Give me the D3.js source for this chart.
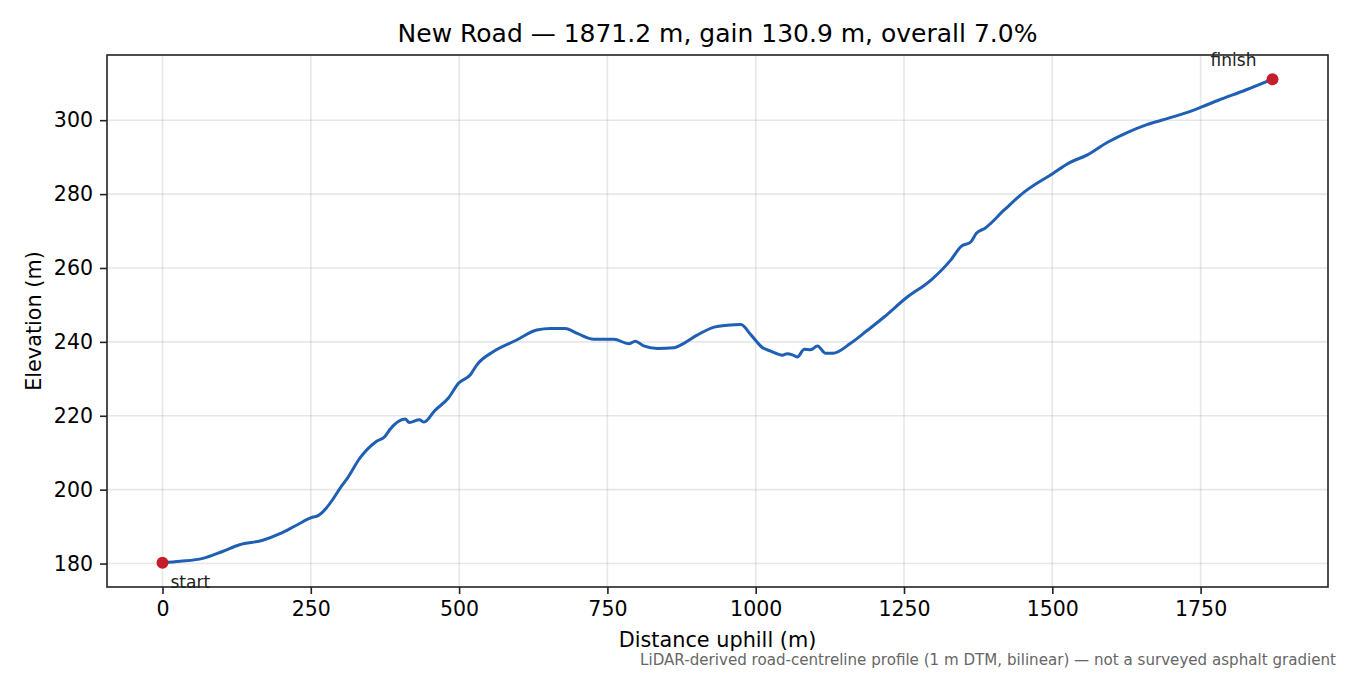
<!DOCTYPE html>
<html>
<head>
<meta charset="utf-8">
<script src="https://cdn.jsdelivr.net/npm/d3@7"></script>
<style>
  body { margin: 0; background: #fff; }
  svg { font-family: "DejaVu Sans", sans-serif; }
</style>
</head>
<body>
<div id="chart"></div>
<script>
var width = 1350;
var height = 675;
var margin = { top: 55, right: 22, bottom: 88, left: 107 };

// distance along the road (m) and elevation (m)
var distance = [0, 30, 68, 100, 130, 169, 198, 225, 254, 260, 275, 288, 302, 310, 333, 361, 375, 383,
  409, 416, 433, 441, 459, 482, 499, 519, 530, 558, 597, 631, 654, 679, 699, 727, 761, 786, 797,
  811, 834, 862, 879, 902, 930, 952, 975, 992, 1011, 1025, 1045, 1053, 1062, 1070, 1082, 1093,
  1104, 1118, 1130, 1160, 1189, 1217, 1253, 1296, 1329, 1346, 1363, 1372, 1386, 1419, 1453, 1501,
  1527, 1560, 1594, 1628, 1656, 1684, 1729, 1752, 1780, 1825, 1871.2];
var elevation = [180.2, 180.6, 181.4, 183.2, 185.1, 186.3, 188.1, 190.3, 192.6, 192.8, 194.8, 197.6,
  201.0, 202.7, 208.6, 213.1, 214.4, 216.2, 219.1, 218.2, 218.9, 218.3, 221.4, 224.8, 228.8, 231.1,
  233.8, 237.4, 240.5, 243.2, 243.6, 243.6, 242.3, 240.7, 240.7, 239.5, 240.2, 238.9, 238.2, 238.4,
  239.6, 241.9, 244.0, 244.5, 244.7, 241.9, 238.5, 237.5, 236.4, 236.8, 236.5, 235.9, 238.0, 237.9,
  238.9, 236.9, 236.9, 239.6, 243.2, 246.8, 251.8, 256.8, 262.2, 265.8, 267.1, 269.4, 270.7, 275.7,
  280.6, 285.6, 288.3, 290.7, 294.1, 296.8, 298.6, 300.0, 302.2, 303.6, 305.4, 308.1, 311.1];

var xTicks = [0, 250, 500, 750, 1000, 1250, 1500, 1750];
var yTicks = [180, 200, 220, 240, 260, 280, 300];
var endLabels = ["start", "finish"];

var title = "New Road \u2014 1871.2 m, gain 130.9 m, overall 7.0%";
var note = "LiDAR-derived road-centreline profile (1 m DTM, bilinear) \u2014 not a surveyed asphalt gradient";

var pts = distance.map(function (d, i) { return { x: d, y: elevation[i] }; });

// matplotlib-style 5% padding around the data
var xExt = d3.extent(distance), yExt = d3.extent(elevation);
var xPad = (xExt[1] - xExt[0]) * 0.05, yPad = (yExt[1] - yExt[0]) * 0.05;

var scalex = d3.scaleLinear()
  .domain([xExt[0] - xPad, xExt[1] + xPad])
  .range([margin.left, width - margin.right]);
var scaley = d3.scaleLinear()
  .domain([yExt[0] - yPad, yExt[1] + yPad])
  .range([height - margin.bottom, margin.top]);

var svg = d3.select("#chart").append("svg")
  .attr("width", width)
  .attr("height", height);

// grid
svg.append("g").selectAll("line").data(xTicks).enter().append("line")
  .attr("x1", function (d) { return scalex(d); })
  .attr("x2", function (d) { return scalex(d); })
  .attr("y1", margin.top).attr("y2", height - margin.bottom)
  .attr("stroke", "#b0b0b0").attr("stroke-opacity", 0.3).attr("stroke-width", 1.6);
svg.append("g").selectAll("line").data(yTicks).enter().append("line")
  .attr("y1", function (d) { return scaley(d); })
  .attr("y2", function (d) { return scaley(d); })
  .attr("x1", margin.left).attr("x2", width - margin.right)
  .attr("stroke", "#b0b0b0").attr("stroke-opacity", 0.3).attr("stroke-width", 1.6);

// axes
var xaxis = d3.axisBottom(scalex).tickValues(xTicks).tickSize(7).tickPadding(7).tickFormat(d3.format("d"));
var yaxis = d3.axisLeft(scaley).tickValues(yTicks).tickSize(7).tickPadding(7).tickFormat(d3.format("d"));

var gx = svg.append("g")
  .attr("transform", "translate(0," + (height - margin.bottom) + ")")
  .call(xaxis);
var gy = svg.append("g")
  .attr("transform", "translate(" + margin.left + ",0)")
  .call(yaxis);
[gx, gy].forEach(function (g) {
  g.select(".domain").remove();
  g.selectAll("line").attr("stroke", "#222").attr("stroke-width", 1.6);
  g.selectAll("text").attr("fill", "#000").style("font-size", "20.5px")
    .style("font-family", "DejaVu Sans, sans-serif");
});

// frame
svg.append("rect")
  .attr("x", margin.left).attr("y", margin.top)
  .attr("width", width - margin.left - margin.right)
  .attr("height", height - margin.top - margin.bottom)
  .attr("fill", "none").attr("stroke", "#222").attr("stroke-width", 1.6);

// profile line
var line = d3.line()
  .curve(d3.curveMonotoneX)
  .x(function (d) { return scalex(d.x); })
  .y(function (d) { return scaley(d.y); });
svg.append("path")
  .datum(pts)
  .attr("d", line)
  .attr("fill", "none")
  .attr("stroke", "#1f5fb4")
  .attr("stroke-width", 3)
  .attr("stroke-linejoin", "round");

// start / finish markers
var ends = [pts[0], pts[pts.length - 1]];
svg.append("g").selectAll("circle").data(ends).enter().append("circle")
  .attr("cx", function (d) { return scalex(d.x); })
  .attr("cy", function (d) { return scaley(d.y); })
  .attr("r", 6)
  .attr("fill", "#c41e2a");

svg.append("text")
  .attr("x", scalex(ends[0].x) + 8)
  .attr("y", scaley(ends[0].y) + 25)
  .style("font-size", "17px").attr("fill", "#222")
  .text(endLabels[0]);
svg.append("text")
  .attr("x", scalex(ends[1].x) - 39)
  .attr("y", scaley(ends[1].y) - 13)
  .attr("text-anchor", "middle")
  .style("font-size", "17px").attr("fill", "#222")
  .text(endLabels[1]);

// titles
svg.append("text")
  .attr("x", (margin.left + width - margin.right) / 2)
  .attr("y", 42)
  .attr("text-anchor", "middle")
  .style("font-size", "25px")
  .text(title);

svg.append("text")
  .attr("x", (margin.left + width - margin.right) / 2)
  .attr("y", 647)
  .attr("text-anchor", "middle")
  .style("font-size", "20.8px")
  .text("Distance uphill (m)");

svg.append("text")
  .attr("transform", "translate(41," + ((margin.top + height - margin.bottom) / 2) + ") rotate(-90)")
  .attr("text-anchor", "middle")
  .style("font-size", "20.8px")
  .text("Elevation (m)");

svg.append("text")
  .attr("x", 1336)
  .attr("y", 665)
  .attr("text-anchor", "end")
  .style("font-size", "15.1px")
  .attr("fill", "#666")
  .text(note);
</script>
</body>
</html>
